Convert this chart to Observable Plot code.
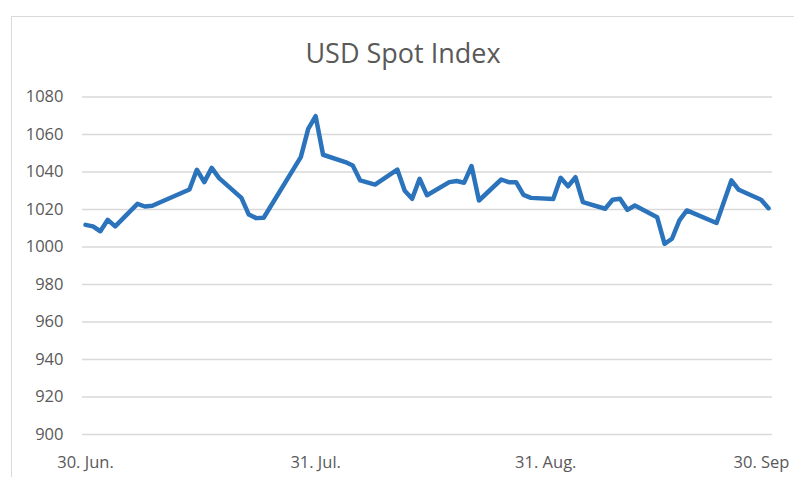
<!DOCTYPE html>
<html>
<head>
<meta charset="utf-8">
<script src="https://cdn.jsdelivr.net/npm/d3@7"></script>
<script src="https://cdn.jsdelivr.net/npm/@observablehq/plot@0.6"></script>
<style>
  html, body { margin: 0; padding: 0; background: #fff; }
  #wrap { position: relative; width: 794px; height: 477px; overflow: hidden; background: #fff; }
  #frame { position: absolute; left: 11px; top: 16px; width: 900px; height: 600px; border: 1.5px solid #d9d9d9; box-sizing: border-box; }
  #title { position: absolute; left: 0; top: 39px; width: 806px; text-align: center; font-family: "Open Sans", sans-serif; font-size: 27px; line-height: 1; color: #595959; }
  #chart { position: absolute; left: 0; top: 70px; }
</style>
</head>
<body>
<div id="wrap">
  <div id="frame"></div>
  <div id="title">USD Spot Index</div>
  <div id="chart"></div>
</div>
<script>
const dates = ["2020-06-30","2020-07-01","2020-07-02","2020-07-03","2020-07-04","2020-07-07","2020-07-08","2020-07-09","2020-07-14","2020-07-15","2020-07-16","2020-07-17","2020-07-18","2020-07-21","2020-07-22","2020-07-23","2020-07-24","2020-07-29","2020-07-30","2020-07-31","2020-08-01","2020-08-04","2020-08-05","2020-08-06","2020-08-08","2020-08-11","2020-08-12","2020-08-13","2020-08-14","2020-08-15","2020-08-18","2020-08-19","2020-08-20","2020-08-21","2020-08-22","2020-08-25","2020-08-26","2020-08-27","2020-08-28","2020-08-29","2020-09-01","2020-09-02","2020-09-03","2020-09-04","2020-09-05","2020-09-08","2020-09-09","2020-09-10","2020-09-11","2020-09-12","2020-09-15","2020-09-16","2020-09-17","2020-09-18","2020-09-19","2020-09-23","2020-09-25","2020-09-26","2020-09-29","2020-09-30"];
const values = [1011.8,1011,1008.4,1014.5,1011,1023,1021.6,1022,1030.7,1041.2,1034.6,1042.2,1036.7,1026.2,1017.3,1015.4,1015.6,1047.9,1063,1069.8,1049.2,1045.3,1043.5,1035.5,1033.3,1041.3,1030,1025.7,1036.4,1027.6,1034.6,1035.2,1034.3,1043.2,1024.8,1036,1034.6,1034.6,1027.8,1026.2,1025.6,1036.9,1032.4,1037.2,1023.9,1020.4,1025.2,1025.7,1019.8,1022.1,1015.9,1001.7,1004.4,1014.2,1019.5,1012.8,1035.5,1030.5,1025.2,1020.7];
const xTickDates = ["2020-06-30","2020-07-31","2020-08-31","2020-09-30"];
const xTickLabels = ["30. Jun.","31. Jul.","31. Aug.","30. Sep"];
const yTicks = [900,920,940,960,980,1000,1020,1040,1060,1080];

const data = dates.map((d, i) => ({date: new Date(d), value: values[i]}));
const xTicks = xTickDates.map(d => new Date(d));
const labelOf = new Map(xTicks.map((d, i) => [+d, xTickLabels[i]]));

const chart = Plot.plot({
  width: 794,
  height: 407,
  marginLeft: 82,
  marginRight: 22,
  marginTop: 26.5,
  marginBottom: 43,
  style: {fontFamily: "'Open Sans', sans-serif", fontSize: "16.5px", color: "#595959", background: "transparent", overflow: "visible"},
  x: {type: "utc", domain: [xTicks[0], xTicks[xTicks.length - 1]], range: [85, 768]},
  y: {domain: [900, 1080]},
  marks: [
    Plot.ruleY(yTicks, {stroke: "#d9d9d9", strokeWidth: 1.4}),
    Plot.axisY({ticks: yTicks, tickSize: 0, tickPadding: 19, label: null, fontSize: 16.5, tickFormat: d3.format("d")}),
    Plot.axisX({ticks: xTicks.slice(0, 3), tickSize: 0, tickPadding: 22, label: null, fontSize: 16.5, tickFormat: d => labelOf.get(+d)}),
    Plot.axisX({ticks: xTicks.slice(3), tickSize: 0, tickPadding: 22, label: null, fontSize: 16.5, dx: -7, tickFormat: d => labelOf.get(+d)}),
    Plot.line(data, {x: "date", y: "value", stroke: "#2B74BC", strokeWidth: 4.5, strokeLinejoin: "round", strokeLinecap: "round"})
  ]
});
document.getElementById("chart").appendChild(chart);
</script>
</body>
</html>
